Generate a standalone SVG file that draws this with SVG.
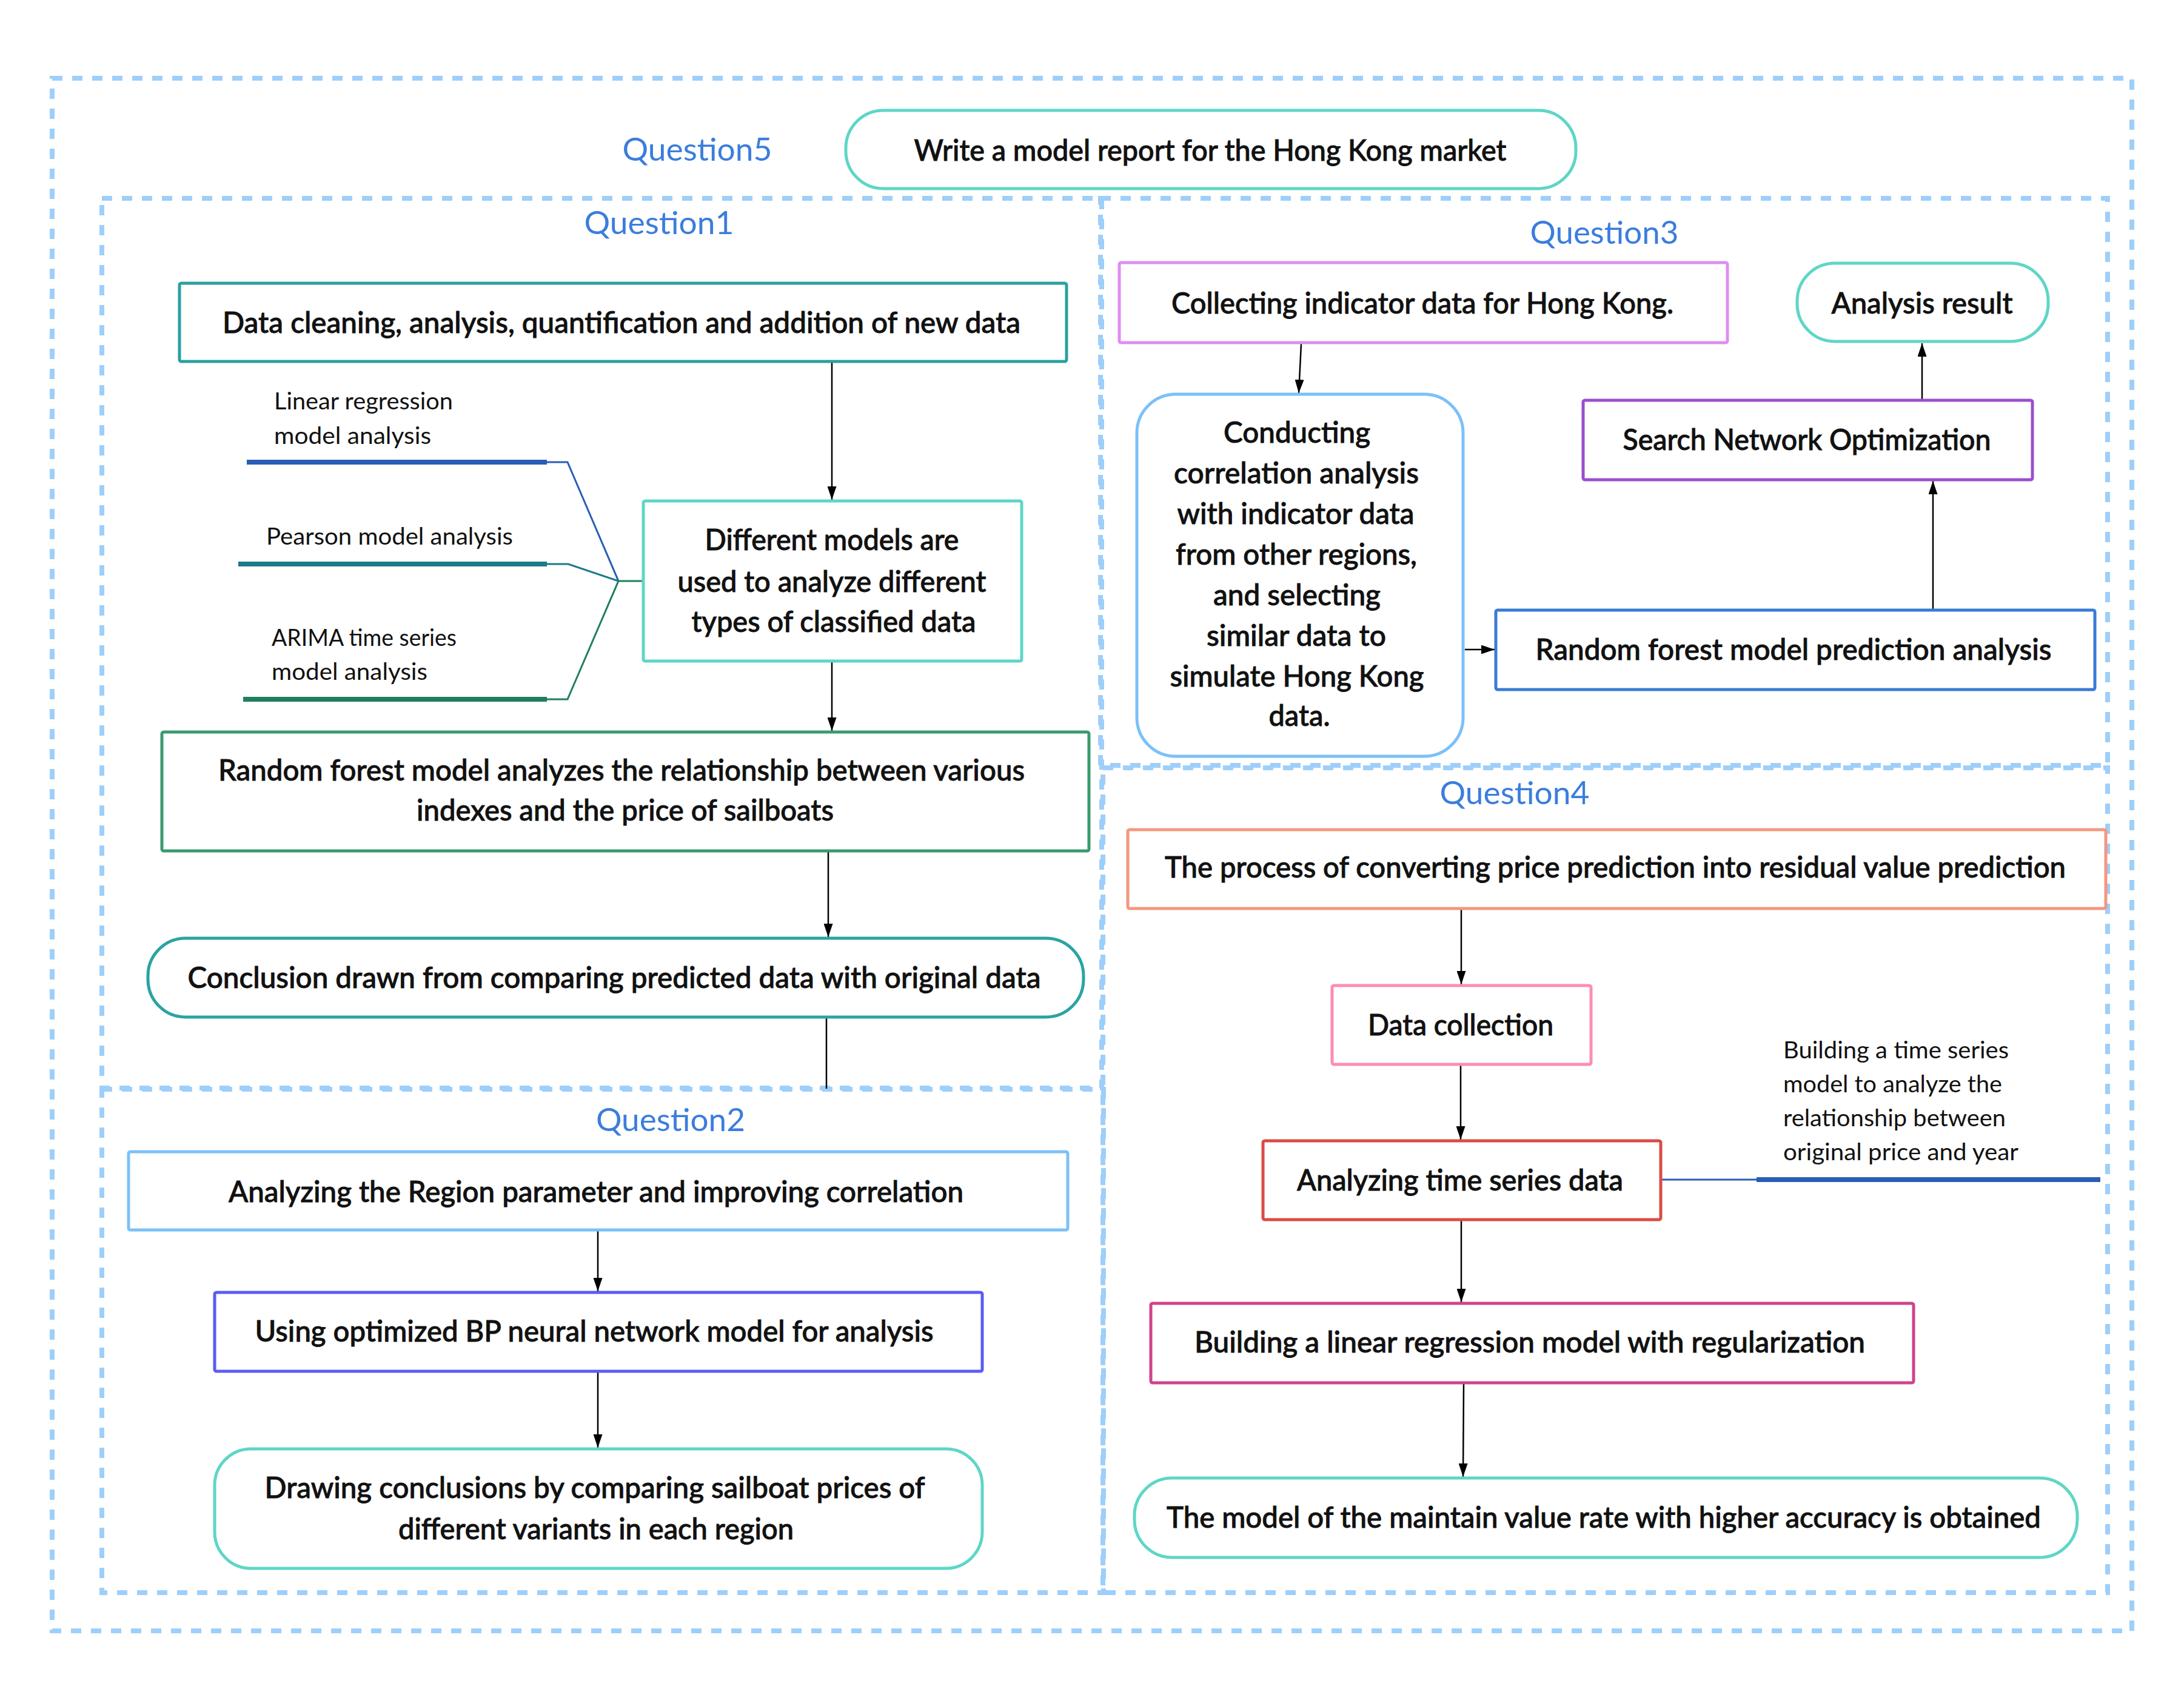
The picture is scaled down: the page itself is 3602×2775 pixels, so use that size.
<svg xmlns="http://www.w3.org/2000/svg" width="3602" height="2775" viewBox="0 0 3602 2775">
<defs>
<marker id="arr" viewBox="0 0 22 15" refX="22" refY="7.5" markerWidth="22" markerHeight="15" markerUnits="userSpaceOnUse" orient="auto">
<path d="M0,0 L22,7.5 L0,15 z" fill="#000"/>
</marker>
<style>
.frame{fill:none;stroke:#9ECFFA;stroke-width:8;stroke-dasharray:17 16}
.box{fill:#fff;stroke-width:5}
.t{font-family:Lato,"Noto Sans","Liberation Sans",sans-serif;font-size:48px;font-weight:500;fill:#111;stroke:#111;stroke-width:0.9;text-anchor:middle}
.s{font-family:Lato,"Noto Sans","Liberation Sans",sans-serif;font-size:38px;font-weight:400;fill:#111;text-anchor:start}
.q{font-family:Lato,"Noto Sans","Liberation Sans",sans-serif;font-size:52px;font-weight:400;fill:#3B7DDD;text-anchor:middle}
.conn{fill:none;stroke:#000;stroke-width:2.5}
.thin{fill:none;stroke-width:3}
.thick{fill:none;stroke-width:8}
</style>
</defs>
<rect width="3602" height="2775" fill="#fff"/>

<g id="frames">
<rect class="frame" x="86" y="129" width="3430" height="2560"/>
<rect class="frame" x="168" y="327" width="1649" height="1467"/>
<rect class="frame" x="168" y="1796" width="1652" height="830"/>
<rect class="frame" x="1815" y="327" width="1661" height="935"/>
<rect class="frame" x="1819" y="1266" width="1657" height="1360"/>
</g>

<g id="labels">
<text class="q" x="1150" y="265" textLength="247" lengthAdjust="spacingAndGlyphs">Question5</text>
<text class="q" x="1087" y="386" textLength="247" lengthAdjust="spacingAndGlyphs">Question1</text>
<text class="q" x="1106" y="1865" textLength="246" lengthAdjust="spacingAndGlyphs">Question2</text>
<text class="q" x="2646" y="402" textLength="245" lengthAdjust="spacingAndGlyphs">Question3</text>
<text class="q" x="2498" y="1326" textLength="247" lengthAdjust="spacingAndGlyphs">Question4</text>
</g>

<g id="connectors">
<line class="conn" x1="1372" y1="598" x2="1372" y2="824" marker-end="url(#arr)"/>
<line class="conn" x1="1372" y1="1092" x2="1372" y2="1205" marker-end="url(#arr)"/>
<line class="conn" x1="1366" y1="1405" x2="1366" y2="1545" marker-end="url(#arr)"/>
<line class="conn" x1="1363" y1="1679" x2="1363" y2="1795"/>
<line class="conn" x1="986" y1="2030" x2="986" y2="2129" marker-end="url(#arr)"/>
<line class="conn" x1="986" y1="2263" x2="986" y2="2387" marker-end="url(#arr)"/>
<line class="conn" x1="2146" y1="567" x2="2142" y2="648" marker-end="url(#arr)"/>
<line class="conn" x1="2416" y1="1071" x2="2465" y2="1071" marker-end="url(#arr)"/>
<line class="conn" x1="3188" y1="1004" x2="3188" y2="793" marker-end="url(#arr)"/>
<line class="conn" x1="3170" y1="658" x2="3170" y2="566" marker-end="url(#arr)"/>
<line class="conn" x1="2410" y1="1500" x2="2410" y2="1623" marker-end="url(#arr)"/>
<line class="conn" x1="2409" y1="1757" x2="2409" y2="1879" marker-end="url(#arr)"/>
<line class="conn" x1="2410" y1="2013" x2="2410" y2="2147" marker-end="url(#arr)"/>
<line class="conn" x1="2414" y1="2282" x2="2413" y2="2435" marker-end="url(#arr)"/>
<path class="thin" stroke="#2A5DB5" d="M902,762 L936,762 L1020,958"/>
<path class="thin" stroke="#1B7A87" d="M902,930 L937,930 L1020,958"/>
<path class="thin" stroke="#1F7F5E" d="M902,1153 L936,1153 L1020,958 L1060,958"/>
<path class="thin" stroke="#2A5DB5" d="M2741,1945 L2897,1945"/>
</g>

<g id="branch-linear">
<line class="thick" stroke="#2A5DB5" x1="407" y1="762" x2="902" y2="762"/>
<text class="s" x="452" y="675" textLength="295" lengthAdjust="spacingAndGlyphs">Linear regression</text>
<text class="s" x="452" y="732" textLength="259" lengthAdjust="spacingAndGlyphs">model analysis</text>
</g>
<g id="branch-pearson">
<line class="thick" stroke="#1B7A87" x1="393" y1="930" x2="902" y2="930"/>
<text class="s" x="439" y="898" textLength="407" lengthAdjust="spacingAndGlyphs">Pearson model analysis</text>
</g>
<g id="branch-arima">
<line class="thick" stroke="#1F7F5E" x1="401" y1="1153" x2="902" y2="1153"/>
<text class="s" x="448" y="1065" textLength="305" lengthAdjust="spacingAndGlyphs">ARIMA time series</text>
<text class="s" x="448" y="1121" textLength="257" lengthAdjust="spacingAndGlyphs">model analysis</text>
</g>
<g id="branch-timeseries">
<line class="thick" stroke="#2A5DB5" x1="2897" y1="1945" x2="3464" y2="1945"/>
<text class="s" x="2941" y="1745" textLength="372" lengthAdjust="spacingAndGlyphs">Building a time series</text>
<text class="s" x="2941" y="1801" textLength="361" lengthAdjust="spacingAndGlyphs">model to analyze the</text>
<text class="s" x="2941" y="1857" textLength="367" lengthAdjust="spacingAndGlyphs">relationship between</text>
<text class="s" x="2941" y="1913" textLength="388" lengthAdjust="spacingAndGlyphs">original price and year</text>
</g>

<g id="n-write">
<rect class="box" stroke="#5ED6C6" x="1395" y="182" width="1204" height="129" rx="62"/>
<text class="t" x="1996" y="265" textLength="977" lengthAdjust="spacingAndGlyphs">Write a model report for the Hong Kong market</text>
</g>
<g id="n-cleaning">
<rect class="box" stroke="#2AA0A0" x="296" y="467" width="1463" height="129" rx="3"/>
<text class="t" x="1025" y="549" textLength="1316" lengthAdjust="spacingAndGlyphs">Data cleaning, analysis, quantification and addition of new data</text>
</g>
<g id="n-models">
<rect class="box" stroke="#5DD6C7" x="1061" y="826" width="624" height="264" rx="3"/>
<text class="t" x="1372" y="907" textLength="419" lengthAdjust="spacingAndGlyphs">Different models are</text>
<text class="t" x="1372" y="976" textLength="509" lengthAdjust="spacingAndGlyphs">used to analyze different</text>
<text class="t" x="1375" y="1042" textLength="469" lengthAdjust="spacingAndGlyphs">types of classified data</text>
</g>
<g id="n-rf">
<rect class="box" stroke="#3A9A6E" x="267" y="1207" width="1529" height="196" rx="3"/>
<text class="t" x="1025" y="1287" textLength="1330" lengthAdjust="spacingAndGlyphs">Random forest model analyzes the relationship between various</text>
<text class="t" x="1031" y="1353" textLength="688" lengthAdjust="spacingAndGlyphs">indexes and the price of sailboats</text>
</g>
<g id="n-conclusion">
<rect class="box" stroke="#2AA3A3" x="244" y="1547" width="1543" height="130" rx="62"/>
<text class="t" x="1013" y="1629" textLength="1407" lengthAdjust="spacingAndGlyphs">Conclusion drawn from comparing predicted data with original data</text>
</g>
<g id="n-region">
<rect class="box" stroke="#7CC0F8" x="212" y="1899" width="1549" height="129" rx="3"/>
<text class="t" x="983" y="1982" textLength="1212" lengthAdjust="spacingAndGlyphs">Analyzing the Region parameter and improving correlation</text>
</g>
<g id="n-bp">
<rect class="box" stroke="#5B5BF5" x="354" y="2131" width="1266" height="130" rx="3"/>
<text class="t" x="980" y="2212" textLength="1119" lengthAdjust="spacingAndGlyphs">Using optimized BP neural network model for analysis</text>
</g>
<g id="n-drawing">
<rect class="box" stroke="#5ED6C6" x="354" y="2389" width="1266" height="197" rx="60"/>
<text class="t" x="981" y="2470" textLength="1089" lengthAdjust="spacingAndGlyphs">Drawing conclusions by comparing sailboat prices of</text>
<text class="t" x="983" y="2538" textLength="652" lengthAdjust="spacingAndGlyphs">different variants in each region</text>
</g>
<g id="n-collecting">
<rect class="box" stroke="#DE8EF0" x="1846" y="433" width="1003" height="132" rx="3"/>
<text class="t" x="2346" y="517" textLength="828" lengthAdjust="spacingAndGlyphs">Collecting indicator data for Hong Kong.</text>
</g>
<g id="n-result">
<rect class="box" stroke="#5ED6C6" x="2964" y="434" width="414" height="129" rx="62"/>
<text class="t" x="3170" y="517" textLength="299" lengthAdjust="spacingAndGlyphs">Analysis result</text>
</g>
<g id="n-search">
<rect class="box" stroke="#9B4ECB" x="2611" y="660" width="741" height="131" rx="3"/>
<text class="t" x="2980" y="742" textLength="607" lengthAdjust="spacingAndGlyphs">Search Network Optimization</text>
</g>
<g id="n-conducting">
<rect class="box" stroke="#7CC0F8" x="1875" y="650" width="538" height="597" rx="64"/>
<text class="t" x="2139" y="730" textLength="242" lengthAdjust="spacingAndGlyphs">Conducting</text>
<text class="t" x="2138" y="797" textLength="404" lengthAdjust="spacingAndGlyphs">correlation analysis</text>
<text class="t" x="2137" y="864" textLength="391" lengthAdjust="spacingAndGlyphs">with indicator data</text>
<text class="t" x="2138" y="931" textLength="398" lengthAdjust="spacingAndGlyphs">from other regions,</text>
<text class="t" x="2139" y="998" textLength="276" lengthAdjust="spacingAndGlyphs">and selecting</text>
<text class="t" x="2138" y="1065" textLength="296" lengthAdjust="spacingAndGlyphs">similar data to</text>
<text class="t" x="2139" y="1132" textLength="419" lengthAdjust="spacingAndGlyphs">simulate Hong Kong</text>
<text class="t" x="2143" y="1197" textLength="101" lengthAdjust="spacingAndGlyphs">data.</text>
</g>
<g id="n-rfpred">
<rect class="box" stroke="#3A7BD5" x="2467" y="1006" width="988" height="131" rx="3"/>
<text class="t" x="2958" y="1088" textLength="851" lengthAdjust="spacingAndGlyphs">Random forest model prediction analysis</text>
</g>
<g id="n-process">
<rect class="box" stroke="#F59680" x="1860" y="1368" width="1613" height="130" rx="3"/>
<text class="t" x="2664" y="1447" textLength="1486" lengthAdjust="spacingAndGlyphs">The process of converting price prediction into residual value prediction</text>
</g>
<g id="n-datacollection">
<rect class="box" stroke="#FF8CB2" x="2197" y="1625" width="427" height="130" rx="3"/>
<text class="t" x="2409" y="1707" textLength="306" lengthAdjust="spacingAndGlyphs">Data collection</text>
</g>
<g id="n-timeseries">
<rect class="box" stroke="#D94C45" x="2083" y="1881" width="656" height="130" rx="3"/>
<text class="t" x="2408" y="1963" textLength="538" lengthAdjust="spacingAndGlyphs">Analyzing time series data</text>
</g>
<g id="n-linreg">
<rect class="box" stroke="#D0438A" x="1898" y="2149" width="1258" height="131" rx="3"/>
<text class="t" x="2523" y="2230" textLength="1106" lengthAdjust="spacingAndGlyphs">Building a linear regression model with regularization</text>
</g>
<g id="n-final">
<rect class="box" stroke="#5ED6C6" x="1871" y="2437" width="1555" height="131" rx="62"/>
<text class="t" x="2645" y="2519" textLength="1442" lengthAdjust="spacingAndGlyphs">The model of the maintain value rate with higher accuracy is obtained</text>
</g>
</svg>
